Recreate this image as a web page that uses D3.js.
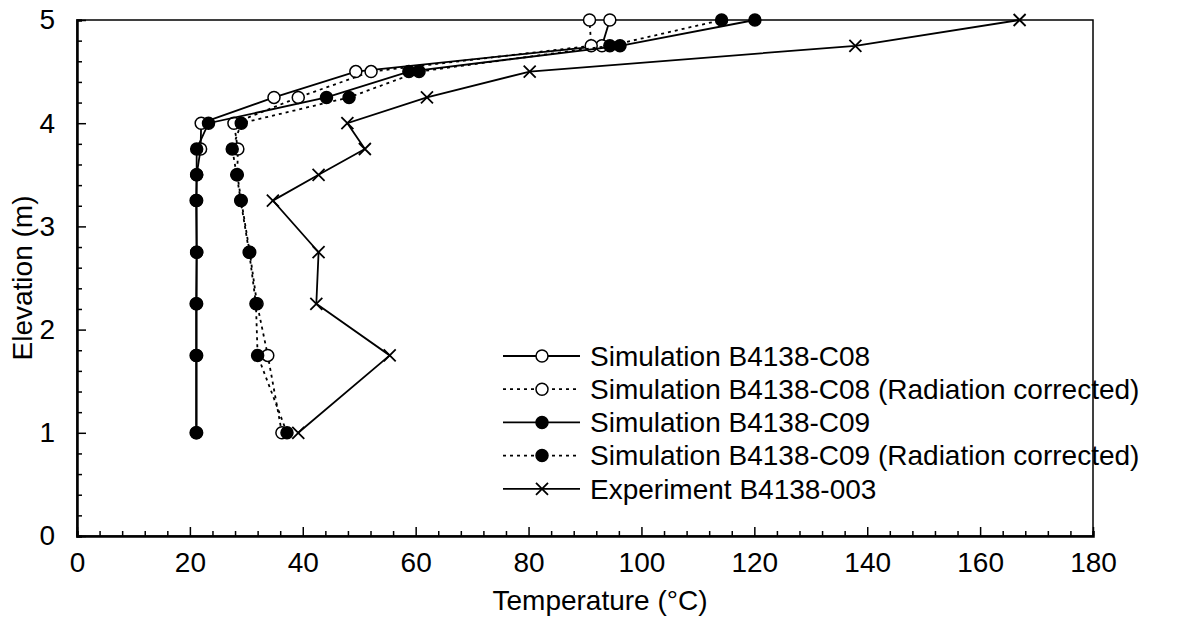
<!DOCTYPE html>
<html>
<head>
<meta charset="utf-8">
<script src="https://cdn.jsdelivr.net/npm/d3@7"></script>
<style>
	body { margin: 0; background: #fff; }
	svg { font-family: 'Liberation Sans', Arial, sans-serif; }
</style>
</head>
<body>
<div id="chart"></div>
<script>
// elevations (m) shared by every series
const elevations = [1, 1.75, 2.25, 2.75, 3.25, 3.5, 3.75, 4, 4.25, 4.5, 4.75, 5];

// temperatures (°C)
const simC08 = [21.2, 21.2, 21.2, 21.2, 21.2, 21.2, 21.9, 22.0, 34.9, 49.4, 93.0, 94.4];
const simC08Corr = [36.3, 33.8, 31.9, 30.6, 29.1, 28.4, 28.5, 27.8, 39.2, 52.1, 91.1, 90.8];
const simC09 = [21.1, 21.1, 21.1, 21.2, 21.1, 21.2, 21.2, 23.3, 44.2, 58.8, 96.2, 120.1];
const simC09Corr = [37.2, 32.0, 31.7, 30.5, 29.0, 28.3, 27.5, 29.1, 48.2, 60.6, 94.4, 114.2];
const expB4138 = [39.2, 55.4, 42.4, 42.8, 34.7, 42.8, 51.0, 47.9, 62.0, 80.2, 137.9, 167];

const seriesNames = [
	'Simulation B4138-C08',
	'Simulation B4138-C08 (Radiation corrected)',
	'Simulation B4138-C09',
	'Simulation B4138-C09 (Radiation corrected)',
	'Experiment B4138-003'
];

const xTicks = [0, 20, 40, 60, 80, 100, 120, 140, 160, 180];
const yTicks = [0, 1, 2, 3, 4, 5];

const series = [
	{name: seriesNames[0], values: simC08, marker: 'open', dash: null},
	{name: seriesNames[1], values: simC08Corr, marker: 'open', dash: '3,4'},
	{name: seriesNames[2], values: simC09, marker: 'filled', dash: null},
	{name: seriesNames[3], values: simC09Corr, marker: 'filled', dash: '3,4'},
	{name: seriesNames[4], values: expB4138, marker: 'cross', dash: null}
];

const width = 1185, height = 632;
const margin = {left: 77, right: 92, top: 20, bottom: 96};
const fontSize = 28;

const svg = d3.select('#chart').append('svg')
	.attr('width', width)
	.attr('height', height);

const xScale = d3.scaleLinear().domain([0, 180]).range([margin.left, width - margin.right]);
const yScale = d3.scaleLinear().domain([0, 5]).range([height - margin.bottom, margin.top]);

// plot frame (top and right)
svg.append('rect')
	.attr('x', xScale(0))
	.attr('y', yScale(5))
	.attr('width', xScale(180) - xScale(0))
	.attr('height', yScale(0) - yScale(5))
	.attr('fill', 'none')
	.attr('stroke', '#000')
	.attr('stroke-width', 1.5);

// axes: ticks point inward, minor ticks every 4 °C / 0.2 m
const xAxis = svg.append('g')
	.attr('transform', 'translate(0,' + yScale(0) + ')')
	.call(d3.axisBottom(xScale).tickValues(d3.range(0, 181, 4)).tickSize(-5).tickFormat(''));
xAxis.selectAll('.tick line').filter(d => d % 20 === 0).attr('y2', -9);
xAxis.select('.domain').attr('stroke-width', 2.5);

svg.append('g')
	.attr('transform', 'translate(0,' + yScale(0) + ')')
	.call(d3.axisBottom(xScale).tickValues(xTicks).tickSize(0).tickPadding(16))
	.call(g => g.select('.domain').remove())
	.selectAll('text')
	.attr('font-size', fontSize)
	.attr('font-family', 'Liberation Sans, Arial, sans-serif')
	.attr('fill', '#000');

const yAxis = svg.append('g')
	.attr('transform', 'translate(' + xScale(0) + ',0)')
	.call(d3.axisLeft(yScale).tickValues(d3.range(0, 5.01, 0.2)).tickSize(-5).tickFormat(''));
yAxis.selectAll('.tick line').filter(d => Math.abs(d - Math.round(d)) < 1e-6).attr('x2', 9);
yAxis.select('.domain').attr('stroke-width', 2.5);

svg.append('g')
	.attr('transform', 'translate(' + xScale(0) + ',0)')
	.call(d3.axisLeft(yScale).tickValues(yTicks).tickSize(0).tickPadding(22).tickFormat(d3.format('d')))
	.call(g => g.select('.domain').remove())
	.selectAll('text')
	.attr('font-size', fontSize)
	.attr('font-family', 'Liberation Sans, Arial, sans-serif')
	.attr('fill', '#000');

svg.selectAll('.tick line').attr('stroke-width', 1.5);

// axis titles
svg.append('text')
	.attr('x', 600)
	.attr('y', 610)
	.attr('text-anchor', 'middle')
	.attr('font-size', fontSize)
	.text('Temperature (°C)');

svg.append('text')
	.attr('transform', 'translate(32,' + (yScale(0) + yScale(5)) / 2 + ') rotate(-90)')
	.attr('text-anchor', 'middle')
	.attr('font-size', fontSize)
	.text('Elevation (m)');

// series lines and markers
const line = d3.line()
	.x(d => xScale(d.t))
	.y(d => yScale(d.z));

function drawMarker(g, type, x, y) {
	if (type === 'cross') {
		const s = 6;
		g.append('path')
			.attr('d', 'M' + (x - s) + ',' + (y - s) + 'L' + (x + s) + ',' + (y + s) +
				'M' + (x - s) + ',' + (y + s) + 'L' + (x + s) + ',' + (y - s))
			.attr('stroke', '#000')
			.attr('stroke-width', 1.8);
	} else {
		g.append('circle')
			.attr('cx', x)
			.attr('cy', y)
			.attr('r', 6)
			.attr('fill', type === 'filled' ? '#000' : '#fff')
			.attr('stroke', '#000')
			.attr('stroke-width', 1.5);
	}
}

const plot = svg.append('g');

series.forEach(s => {
	const pts = s.values.map((t, i) => ({t: t, z: elevations[i]}));
	const g = plot.append('g');
	g.append('path')
		.datum(pts)
		.attr('d', line)
		.attr('fill', 'none')
		.attr('stroke', '#000')
		.attr('stroke-width', 1.8)
		.attr('stroke-dasharray', s.dash);
	pts.forEach(p => drawMarker(g, s.marker, xScale(p.t), yScale(p.z)));
});

// legend
const legend = svg.append('g');
const legendTop = 356, rowGap = 33.2;
series.forEach((s, i) => {
	const y = legendTop + i * rowGap;
	legend.append('line')
		.attr('x1', 503)
		.attr('x2', 580)
		.attr('y1', y)
		.attr('y2', y)
		.attr('stroke', '#000')
		.attr('stroke-width', 1.8)
		.attr('stroke-dasharray', s.dash);
	drawMarker(legend, s.marker, 542, y);
	legend.append('text')
		.attr('x', 590)
		.attr('y', y)
		.attr('dy', '0.35em')
		.attr('font-size', fontSize)
		.text(s.name);
});
</script>
</body>
</html>
